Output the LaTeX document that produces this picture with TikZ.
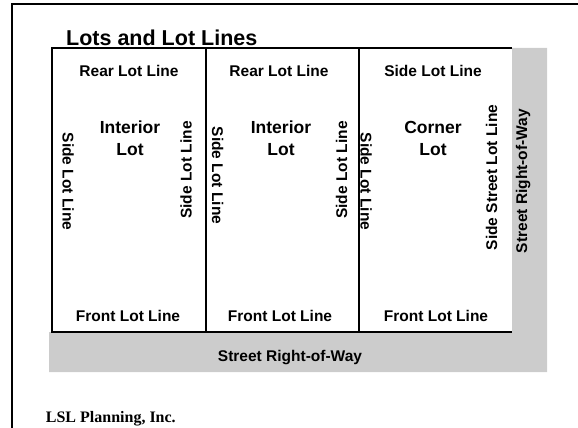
\documentclass[tikz,border=0pt]{standalone}
\usepackage{fontspec}
\setmainfont{Liberation Sans}
\newfontfamily\lslserif{Liberation Serif}
\definecolor{rowgray}{RGB}{204,204,204}
\begin{document}
\begin{tikzpicture}[x=1pt,y=-1pt,
  lbl/.style={font=\fontsize{15.5}{18}\selectfont\bfseries, inner sep=0pt, anchor=base},
  vup/.style={lbl, rotate=90},
  vdown/.style={lbl, rotate=-90},
  lotname/.style={font=\fontsize{17.5}{22}\selectfont\bfseries, inner sep=0pt, anchor=base},
  lotline/.style={line width=1.1pt, black},
  frameline/.style={line width=1.5pt, black}]
\useasboundingbox (0,0) rectangle (578,428);
% frame
\draw[frameline] (12,440) -- (12,4) -- (590,4);
% gray right-of-way
\fill[rowgray] (512,48) -- (547,48) -- (547,372) -- (49,372) -- (49,332) -- (512,332) -- cycle;
% lots
\draw[lotline] (512,48) -- (52,48) -- (52,332) -- (512,332);
\draw[lotline] (206,48) -- (206,332);
\draw[lotline] (359,48) -- (359,332);
% title
\node[font=\fontsize{21.5}{24}\selectfont\bfseries, inner sep=0pt, anchor=base west] (title) at (66,46) {Lots and Lot Lines};
% rear/side top
\node[lbl] (r1) at (129,76.7) {Rear Lot Line};
\node[lbl] (r2) at (279,76.7) {Rear Lot Line};
\node[lbl] (r3) at (433,76.7) {Side Lot Line};
% lot names
\node[lotname] (n1a) at (130,133) {Interior};
\node[lotname] (n1b) at (130,155) {Lot};
\node[lotname] (n2a) at (281,133) {Interior};
\node[lotname] (n2b) at (281,155) {Lot};
\node[lotname] (n3a) at (433,133) {Corner};
\node[lotname] (n3b) at (433,155) {Lot};
% vertical side lines
\node[vdown] (s1l) at (62.5,181.5) {Side Lot Line};
\node[vup] (s1r) at (191.5,170) {Side Lot Line};
\node[vdown] (s2l) at (212,175.5) {Side Lot Line};
\node[vup] (s2r) at (347,170) {Side Lot Line};
\node[vdown] (s3l) at (360.5,181.5) {Side Lot Line};
\node[vup] (s3r) at (497,177.5) {Side Street Lot Line};
\node[vup] (rowv) at (527,181) {Street Right-of-Way};
% front lines
\node[lbl] (f1) at (128,321) {Front Lot Line};
\node[lbl] (f2) at (280,321) {Front Lot Line};
\node[lbl] (f3) at (436,321) {Front Lot Line};
% street
\node[lbl] (rowh) at (290,361) {Street Right-of-Way};
% credit
\node[font=\fontsize{16}{18}\selectfont\lslserif\bfseries, inner sep=0pt, anchor=base west] (lsl) at (45.7,422) {LSL Planning, Inc.};
\end{tikzpicture}
\end{document}
